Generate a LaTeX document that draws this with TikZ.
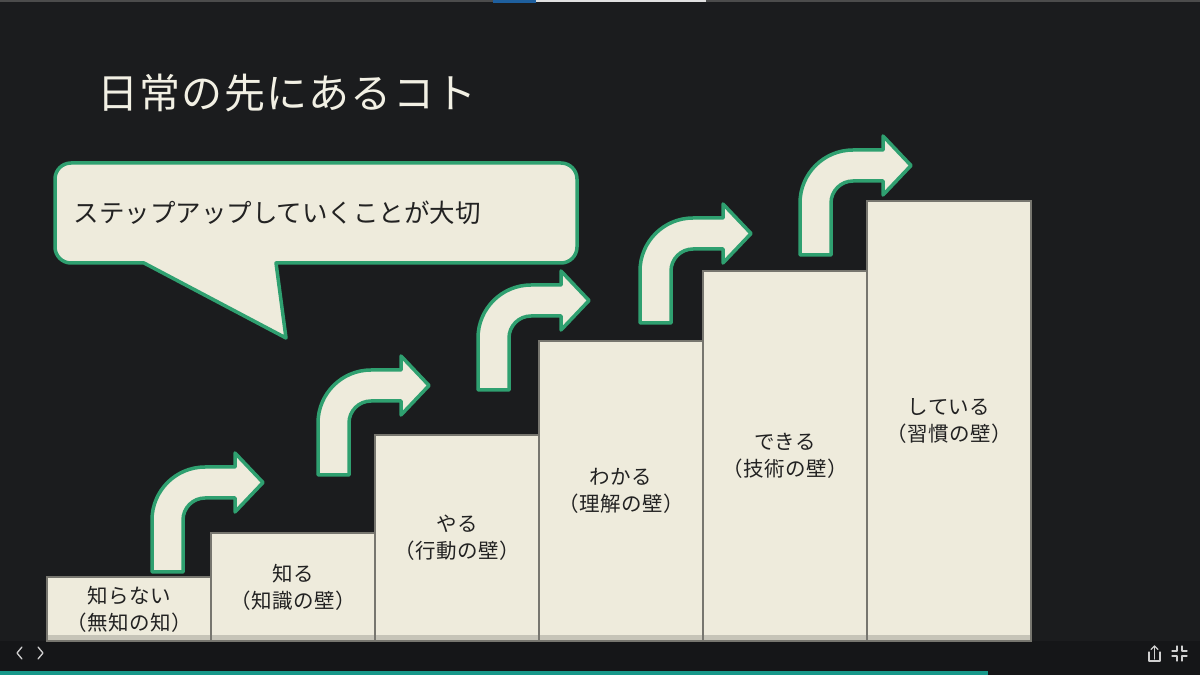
\documentclass[tikz,border=0pt]{standalone}
\usepackage{fontspec}
\setmainfont{Noto Sans CJK JP}
\usetikzlibrary{positioning}
\definecolor{bgdark}{HTML}{1B1C1E}
\definecolor{bardark}{HTML}{151618}
\definecolor{stepcream}{HTML}{EEEBDC}
\definecolor{stepshade}{HTML}{C6C4B8}
\definecolor{stepgray}{HTML}{77766F}
\definecolor{arrowgreen}{HTML}{2FA070}
\definecolor{inkdark}{HTML}{222222}
\definecolor{titlewhite}{HTML}{F2F0E4}
\definecolor{progteal}{HTML}{17988A}
\definecolor{tabblue}{HTML}{1E5F9E}
\definecolor{navgray}{HTML}{D0D0D0}

\begin{document}
\begin{tikzpicture}[x=1pt, y=1pt,
    stepbox/.style={draw=stepgray, line width=2pt, fill=stepcream, minimum width=164pt,
      inner sep=0pt, outer sep=0pt, anchor=south west, align=center, text=inkdark,
      font=\fontsize{20.5}{27}\selectfont\addfontfeatures{LetterSpace=2},
      path picture={\fill[stepshade] (path picture bounding box.south west) rectangle ([yshift=6pt]path picture bounding box.south east);}},
    upbox/.style={draw=arrowgreen, line width=3.5pt, fill=stepcream, line join=round},
    bubble/.style={draw=arrowgreen, line width=3.5pt, fill=stepcream, line join=round},
    navline/.style={draw=navgray, line width=1.3pt, line cap=round, line join=round}]
  % Background and frame
  \fill[bgdark] (0,0) rectangle (1200,675);
  \fill[bardark] (0,0) rectangle (1200,34);
  \fill[progteal] (0,0) rectangle (988,4);
  \fill[black!70] (0,673) rectangle (1200,675);
  \fill[tabblue] (493,672) rectangle (536,675);
  \fill[white!88!black] (536,673) rectangle (706,675);

  % Title
  \node[anchor=west, text=titlewhite, font=\fontsize{41}{48}\selectfont\addfontfeatures{LetterSpace=3}] (title) at (94,582) {日常の先にあるコト};

  % Speech bubble
  \draw[bubble] (276,412) {[rounded corners=16pt] -- (577,412) -- (577,512) -- (55,512) -- (55,412)} -- (144,412) -- (286,337) -- cycle;
  \node[anchor=west, text=inkdark, font=\fontsize{25.5}{30}\selectfont] (msg) at (70,462) {ステップアップしていくことが大切};

  % Steps
  \node[stepbox, minimum height=64pt] (s1) at (47,34) {知らない\\（無知の知）};
  \node[stepbox, minimum height=108pt] (s2) at (s1.south east) {知る\\（知識の壁）};
  \node[stepbox, minimum height=206pt] (s3) at (s2.south east) {やる\\（行動の壁）};
  \node[stepbox, minimum height=300pt] (s4) at (s3.south east) {わかる\\（理解の壁）};
  \node[stepbox, minimum height=370pt] (s5) at (s4.south east) {できる\\（技術の壁）};
  \node[stepbox, minimum height=440pt] (s6) at (s5.south east) {している\\（習慣の壁）};

  % Turn arrows
  \foreach \ax/\ay in {152/103, 318/200, 478/285, 640/352, 800/420}
    \draw[upbox, shift={(\ax,\ay)}] (0,0) -- (0,52) arc[start angle=180, end angle=90, radius=53]
      -- (83,105) -- (83,119) -- (111,89.5) -- (83,60) -- (83,74) -- (53,74)
      arc[start angle=90, end angle=180, radius=22] -- (31,0) -- cycle;

  % Slide controls
  \draw[navline] (22,28) -- (17,22) -- (22,16);
  \draw[navline] (38,28) -- (43,22) -- (38,16);
  \draw[navline] (1149,23) -- (1149,14) -- (1160,14) -- (1160,23);
  \draw[navline] (1154.5,16) -- (1154.5,29);
  \draw[navline] (1151,25.5) -- (1154.5,29) -- (1158,25.5);
  \draw[navline] (1172,24) -- (1177,24) -- (1177,29);
  \draw[navline] (1187,24) -- (1182,24) -- (1182,29);
  \draw[navline] (1172,19) -- (1177,19) -- (1177,14);
  \draw[navline] (1187,19) -- (1182,19) -- (1182,14);
\end{tikzpicture}
\end{document}
